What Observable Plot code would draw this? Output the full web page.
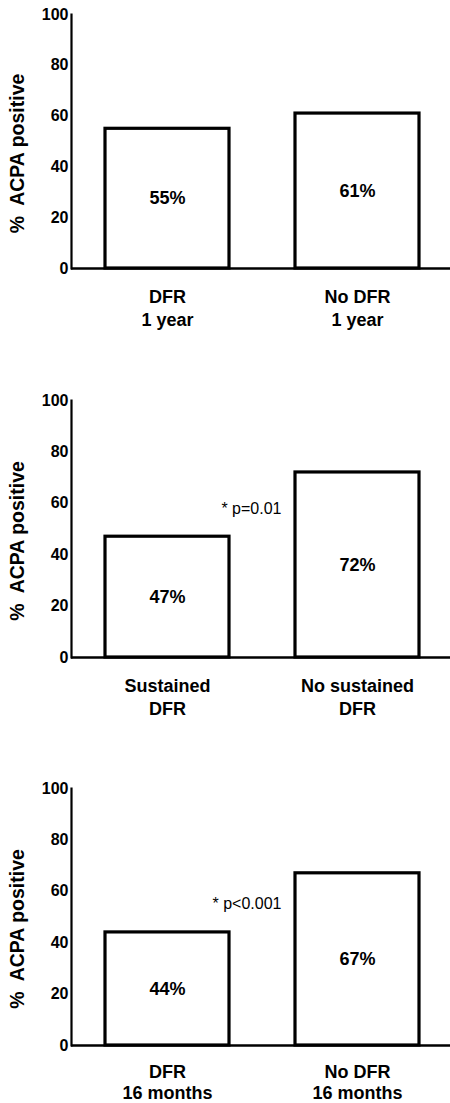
<!DOCTYPE html>
<html>
<head>
<meta charset="utf-8">
<script src="https://cdn.jsdelivr.net/npm/d3@7"></script>
<script src="https://cdn.jsdelivr.net/npm/@observablehq/plot@0.6"></script>
<style>
  html, body { margin: 0; padding: 0; background: #fff; }
  #chart svg { display: block; }
</style>
</head>
<body>
<div id="chart"></div>
<script>
// ---- data ----
const panel1Categories = ["DFR\n1 year", "No DFR\n1 year"];
const panel1Values = [55, 61];
const panel2Categories = ["Sustained\nDFR", "No sustained\nDFR"];
const panel2Values = [47, 72];
const panel3Categories = ["DFR\n16 months", "No DFR\n16 months"];
const panel3Values = [44, 67];
const pValueLabels = [null, "* p=0.01", "* p<0.001"];
const pValueLevels = [null, 58, 55];
const yTicks = [0, 20, 40, 60, 80, 100];
const yTitle = "%\u00a0 ACPA positive";

const FONT = "'Liberation Sans', Arial, Helvetica, sans-serif";

const panels = [
  {cats: panel1Categories, vals: panel1Values, p: pValueLabels[0], py: pValueLevels[0], height: 370, mt: 14, mb: 102, lh: 1.27, tp: 18},
  {cats: panel2Categories, vals: panel2Values, p: pValueLabels[1], py: pValueLevels[1], height: 370, mt: 30, mb: 83, lh: 1.27, tp: 18},
  {cats: panel3Categories, vals: panel3Values, p: pValueLabels[2], py: pValueLevels[2], height: 363, mt: 48, mb: 58, lh: 1.18, tp: 17}
];

const root = document.getElementById("chart");

for (const pnl of panels) {
  const data = pnl.cats.map((c, i) => ({cat: c, v: pnl.vals[i]}));
  const marks = [
    Plot.barY(data, {x: "cat", y: "v", fill: "white", stroke: "black", strokeWidth: 3.2}),
    Plot.text(data, {x: "cat", y: d => d.v / 2, text: d => d.v + "%", fontSize: 18, fontWeight: "bold", fill: "black"}),
    Plot.ruleY([0], {stroke: "black", strokeWidth: 2.6}),
    Plot.frame({anchor: "left", stroke: "black", strokeWidth: 2.2}),
    Plot.axisY({ticks: yTicks, tickSize: 0, tickPadding: 3, fontSize: 16, fontWeight: "bold", label: null, fill: "black"}),
    Plot.axisX({tickSize: 0, tickPadding: pnl.tp, fontSize: 18, fontWeight: "bold", lineHeight: pnl.lh, label: null, fill: "black"}),
    Plot.text([yTitle], {frameAnchor: "left", text: d => d, rotate: -90, dx: -54, dy: 12, fontSize: 19.5, fontWeight: "bold", fill: "black", textAnchor: "middle", lineAnchor: "middle"})
  ];
  if (pnl.p) {
    marks.push(Plot.text([{cat: pnl.cats[1], y: pnl.py, t: pnl.p}], {x: "cat", y: "y", text: "t", textAnchor: "end", dx: -76, fontSize: 16, fill: "black"}));
  }
  const chart = Plot.plot({
    width: 450,
    height: pnl.height,
    marginLeft: 71,
    marginRight: 0,
    marginTop: pnl.mt,
    marginBottom: pnl.mb,
    style: {fontFamily: FONT, color: "black", background: "white", overflow: "visible"},
    x: {type: "band", domain: pnl.cats, paddingInner: 0.346, paddingOuter: 0.168, align: 0.52, axis: null},
    y: {domain: [0, 100], axis: null},
    marks
  });
  root.appendChild(chart);
}
</script>
</body>
</html>
